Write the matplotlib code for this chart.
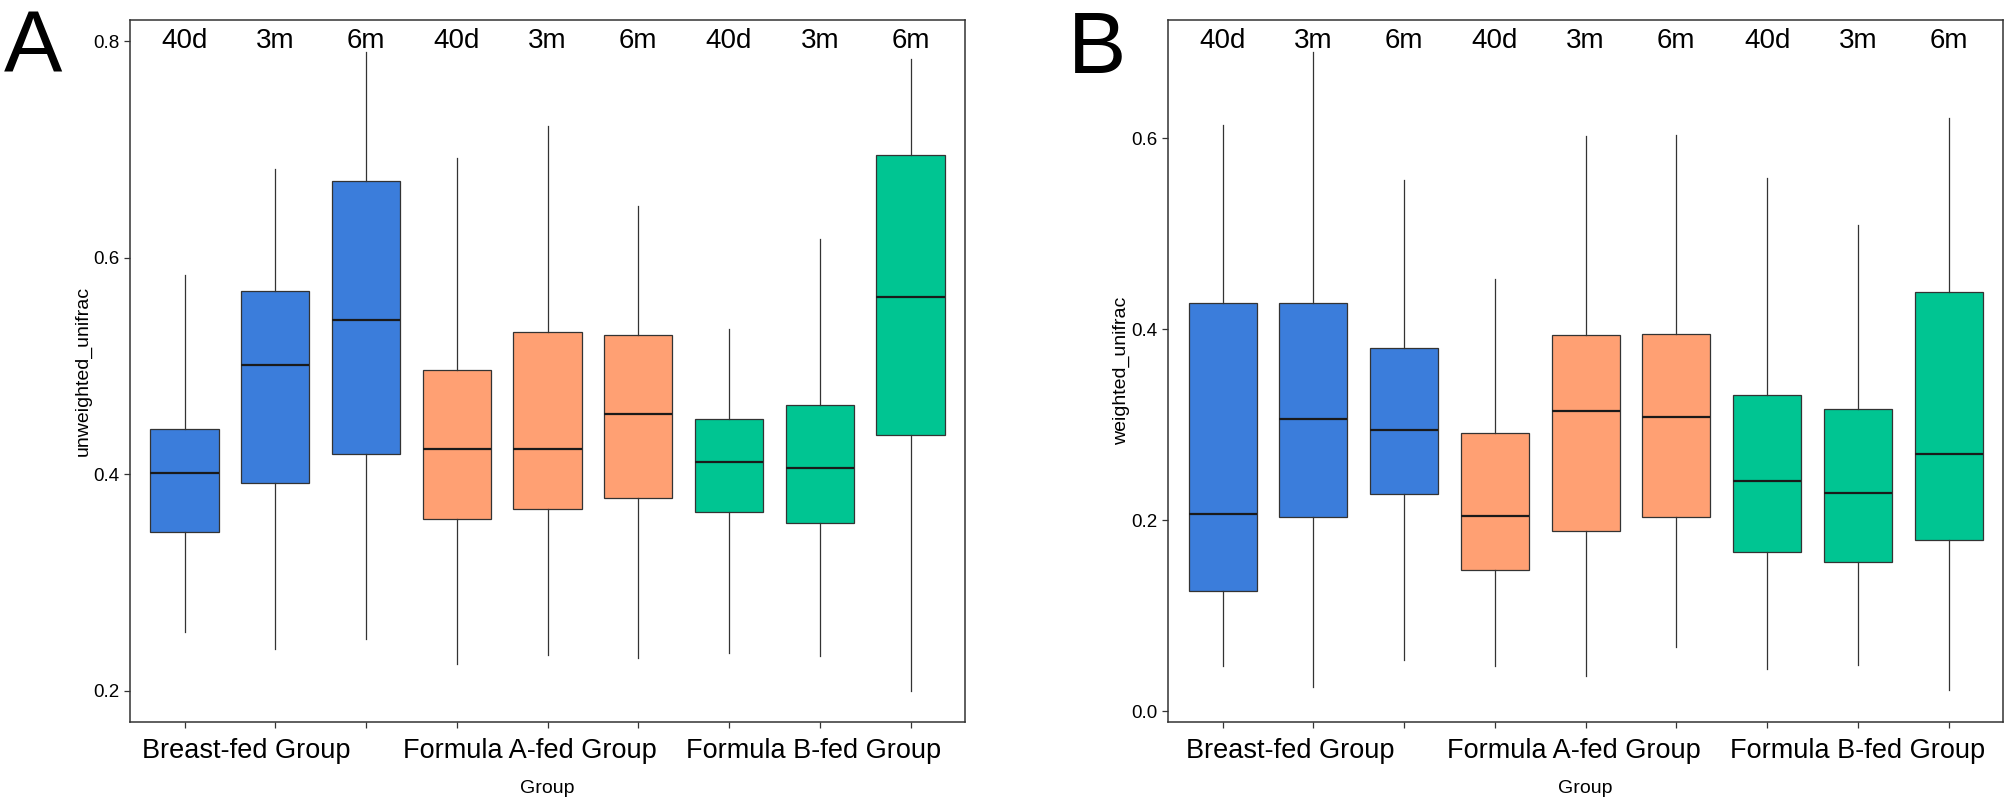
import matplotlib
matplotlib.use("Agg")
import matplotlib.pyplot as plt

plt.rcParams['font.family'] = ['Liberation Sans', 'DejaVu Sans']

groups = ['Breast-fed Group', 'Formula A-fed Group', 'Formula B-fed Group']
times = ['40d', '3m', '6m']
colors = ['#3B7DDB', '#FFA073', '#00C592']

# unweighted unifrac (panel A): whisker low, Q1, median, Q3, whisker high
unw_lo = [0.254, 0.239, 0.248, 0.225, 0.233, 0.230, 0.235, 0.232, 0.200]
unw_q1 = [0.347, 0.392, 0.419, 0.359, 0.368, 0.378, 0.365, 0.355, 0.436]
unw_med = [0.401, 0.501, 0.542, 0.423, 0.423, 0.456, 0.411, 0.406, 0.564]
unw_q3 = [0.442, 0.569, 0.671, 0.496, 0.531, 0.529, 0.451, 0.464, 0.695]
unw_hi = [0.584, 0.682, 0.790, 0.692, 0.722, 0.648, 0.534, 0.617, 0.783]

# weighted unifrac (panel B)
w_lo = [0.048, 0.026, 0.054, 0.048, 0.037, 0.067, 0.044, 0.049, 0.022]
w_q1 = [0.126, 0.204, 0.228, 0.148, 0.189, 0.204, 0.167, 0.156, 0.179]
w_med = [0.207, 0.306, 0.295, 0.205, 0.315, 0.308, 0.241, 0.229, 0.270]
w_q3 = [0.428, 0.428, 0.381, 0.291, 0.394, 0.395, 0.331, 0.317, 0.439]
w_hi = [0.614, 0.690, 0.556, 0.453, 0.602, 0.604, 0.558, 0.509, 0.621]

fig = plt.figure(figsize=(20.07, 8.02), dpi=100)
axA = fig.add_axes([0.0648, 0.1001, 0.4160, 0.8749])
axB = fig.add_axes([0.5821, 0.1001, 0.4159, 0.8749])


def draw(ax, lo, q1, med, q3, hi, ylabel, ylim, yticks, label_x):
    stats = []
    for i in range(len(med)):
        stats.append({'whislo': lo[i], 'q1': q1[i], 'med': med[i],
                      'q3': q3[i], 'whishi': hi[i]})
    pos = list(range(1, len(med) + 1))
    bp = ax.bxp(stats, positions=pos, widths=0.75, patch_artist=True,
                showcaps=False, showfliers=False,
                boxprops=dict(edgecolor='#333333', linewidth=0.9),
                whiskerprops=dict(color='#333333', linewidth=0.9),
                medianprops=dict(color='#1a1a1a', linewidth=1.6))
    for i, box in enumerate(bp['boxes']):
        box.set_facecolor(colors[i // 3])

    for i, p in enumerate(pos):
        ax.text(p, 0.970, times[i % 3], transform=ax.get_xaxis_transform(),
                ha='center', va='center', fontsize=20)
    for g, x in zip(groups, label_x):
        ax.text(x, -0.042, g, transform=ax.get_xaxis_transform(),
                ha='center', va='center', fontsize=19.5)

    ax.set_xlim(0.4, 9.6)
    ax.set_ylim(*ylim)
    ax.set_yticks(yticks)
    ax.set_yticklabels([f'{t:.1f}' for t in yticks])
    ax.set_xticks(pos)
    ax.set_xticklabels([''] * len(pos))
    ax.tick_params(axis='both', direction='out', length=4.5, width=0.9,
                   color='#333333', labelsize=13.5, pad=3)
    for s in ax.spines.values():
        s.set_color('#333333')
        s.set_linewidth(1.1)

    ax.set_ylabel(ylabel, fontsize=14, va='center')
    ax.yaxis.set_label_coords(-0.056, 0.5)
    ax.set_xlabel('Group', fontsize=14, va='center')
    ax.xaxis.set_label_coords(0.5, -0.095)


draw(axA, unw_lo, unw_q1, unw_med, unw_q3, unw_hi, 'unweighted_unifrac',
     (0.1714, 0.8194), [0.2, 0.4, 0.6, 0.8], [1.68, 4.81, 7.93])
draw(axB, w_lo, w_q1, w_med, w_q3, w_hi, 'weighted_unifrac',
     (-0.0108, 0.7239), [0.0, 0.2, 0.4, 0.6], [1.74, 4.87, 8.0])

fig.text(0.002, 0.909, 'A', fontsize=63, ha='left', va='baseline')
fig.text(0.532, 0.909, 'B', fontsize=63, ha='left', va='baseline')

fig.savefig('out.png', dpi=100)
